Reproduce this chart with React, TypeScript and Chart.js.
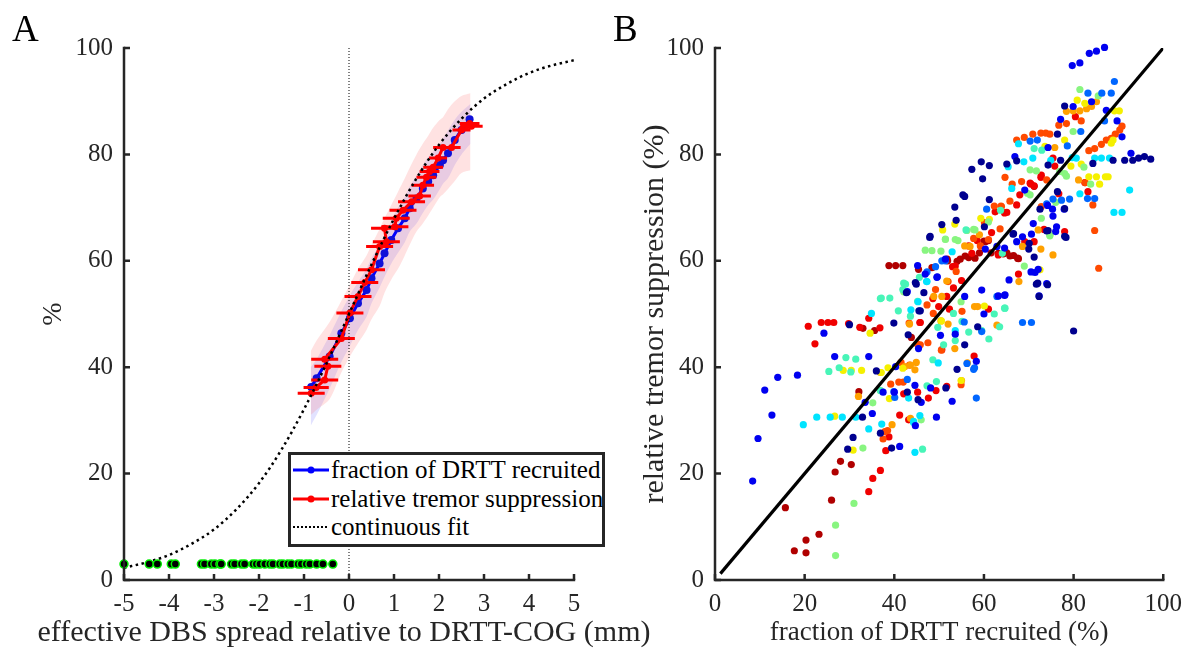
import React, { useEffect, useRef } from 'react';
import { Chart, registerables } from 'chart.js';

Chart.register(...registerables);

const FONT = '"Liberation Serif", "Times New Roman", Times, serif';
const INK = '#262626';
const TICK_SIZE = 25;

// ---------------- Panel A data ----------------
const xTicksA = [-5, -4, -3, -2, -1, 0, 1, 2, 3, 4, 5];
const yTicksA = [0, 20, 40, 60, 80, 100];

// continuous fit (dotted curve)
const fitX = [-5, -4.5, -4, -3.5, -3, -2.5, -2, -1.5, -1, -0.5, 0, 0.5, 1, 1.5, 2, 2.5, 3, 3.5, 4, 4.5, 5];
const fitY = [2.3, 3.3, 4.7, 6.8, 9.5, 13.3, 18.2, 24.5, 32.1, 40.7, 50, 59.3, 67.9, 75.5, 81.8, 86.7, 90.5, 93.2, 95.3, 96.7, 97.7];

// green/black markers along the bottom
const greenX = [-5.0, -4.44, -4.26, -3.95, -3.86, -3.28, -3.21, -3.06, -2.98, -2.87, -2.84, -2.61, -2.54, -2.39, -2.32, -2.13, -2.06, -1.98, -1.87, -1.76, -1.69, -1.54, -1.47, -1.36, -1.28, -1.13, -1.06, -0.95, -0.87, -0.72, -0.58, -0.36];
const greenLevel = 3;

// fraction of DRTT recruited (blue)
const blueX = [-0.84, -0.72, -0.43, -0.17, 0.02, 0.2, 0.39, 0.5, 0.68, 0.79, 0.94, 1.09, 1.24, 1.35, 1.5, 1.64, 1.76, 1.87, 2.02, 2.09, 2.2, 2.35, 2.5, 2.68];
const blueY = [36.3, 37.9, 42.0, 46.4, 49.2, 52.0, 54.5, 56.7, 59.5, 61.4, 63.9, 66.1, 68.0, 69.9, 71.7, 73.6, 74.9, 76.1, 78.0, 78.9, 80.2, 82.7, 84.6, 86.6];

// relative tremor suppression (red) with horizontal error bars
const redX = [-0.84, -0.73, -0.54, -0.47, -0.54, -0.17, 0.02, 0.2, 0.35, 0.5, 0.68, 0.83, 0.79, 1.02, 1.05, 1.2, 1.39, 1.57, 1.64, 1.72, 1.79, 1.87, 1.98, 2.09, 2.28, 2.5, 2.72, 2.68];
const redY = [35.1, 36.2, 37.6, 40.2, 41.5, 45.4, 50.2, 53.3, 55.9, 58.3, 62.7, 63.6, 66.1, 66.4, 68.0, 69.5, 71.1, 72.2, 74.2, 75.7, 76.8, 77.6, 79.3, 81.3, 81.3, 84.6, 85.3, 85.8];
const redErr = [0.3, 0.28, 0.3, 0.3, 0.3, 0.3, 0.3, 0.3, 0.3, 0.3, 0.3, 0.3, 0.3, 0.3, 0.3, 0.3, 0.3, 0.25, 0.25, 0.22, 0.22, 0.22, 0.2, 0.22, 0.2, 0.2, 0.25, 0.22];

// shaded spread bands
const bandX = [-0.85, -0.72, -0.43, -0.17, 0.02, 0.2, 0.39, 0.5, 0.68, 0.79, 0.94, 1.09, 1.24, 1.35, 1.5, 1.64, 1.76, 1.87, 2.02, 2.09, 2.2, 2.35, 2.5, 2.7];
const blueHi = [40, 41.5, 46, 50.5, 53.5, 56, 58.5, 60.5, 63, 65, 67.5, 70, 72, 74, 76, 78, 79.5, 80.5, 82, 83, 84.5, 86.5, 88, 89.5];
const blueLo = [29, 31, 36, 41, 44, 47, 49.5, 52, 55, 57, 59.5, 61.5, 63.5, 65.5, 67, 69, 70.5, 71.5, 73.5, 74.5, 75.5, 78, 80, 82];
const redHi = [43, 45, 48.5, 52.5, 55.5, 58.5, 61, 63, 66, 68, 70.5, 73, 75.5, 77.5, 80, 82, 83.5, 85, 86.5, 87, 88.5, 90, 91, 91.5];
const redLo = [31, 32, 34, 39, 42, 44.5, 47, 49, 51.5, 54, 56.5, 58.5, 61, 63, 65.5, 67, 68.5, 70, 72, 72.5, 73.5, 75, 76.5, 77];

// ---------------- Panel B data ----------------
const xTicksB = [0, 20, 40, 60, 80, 100];
const yTicksB = [0, 20, 40, 60, 80, 100];
const diagX = [1.2, 100];
const diagY = [1.2, 100];

type P = [number, number][];
const navyPts: P = [[30.0,48.0],[39.9,48.3],[43.1,46.1],[55.7,44.2],[58.6,47.6],[45.5,50.6],[80.0,46.8],[36.0,39.3],[51.5,36.1],[54.0,39.6],[42.9,35.3],[45.3,33.9],[32.9,30.6],[36.9,27.6],[30.8,26.8],[29.6,24.6],[39.4,24.8],[61.2,77.9],[59.4,78.6],[57.3,77.2],[59.7,75.4],[55.3,72.4],[55.7,72.1],[53.5,70.1],[53.8,67.6],[50.6,66.8],[48.0,64.6],[61.2,71.5],[60.1,66.4],[66.6,65.1],[70.1,63.3],[44.7,55.9],[47.9,64.4],[46.6,54.0],[44.9,55.6],[42.7,54.0],[45.8,50.6],[78.0,89.1],[76.4,83.8],[65.1,78.2],[67.3,78.8],[77.1,78.9],[74.3,78.0],[84.3,78.3],[88.8,78.9],[91.4,78.9],[93.2,78.9],[94.5,79.3],[95.8,79.6],[97.2,79.1],[76.4,73.0],[72.5,69.7],[78.3,64.4],[74.3,65.7],[66.5,65.0],[70.0,62.2],[71.2,60.7],[71.7,55.6],[74.2,55.5],[72.3,53.3],[78.0,69.8],[74.0,65.6],[78.0,64.6],[72.0,55.8]];
const bluePts: P = [[24.3,46.4],[53.6,46.2],[60.0,50.0],[26.7,42.0],[34.3,42.0],[14.0,38.1],[18.4,38.5],[40.3,40.1],[44.6,36.6],[48.1,36.1],[58.3,41.1],[52.9,33.6],[11.1,35.7],[12.7,31.0],[9.6,26.6],[8.4,18.6],[35.1,31.3],[33.5,33.4],[37.5,35.3],[40.0,35.3],[46.0,33.4],[49.4,30.6],[44.7,29.0],[41.2,25.1],[50.3,46.0],[45.4,43.5],[86.9,100.1],[85.1,99.4],[83.5,99.0],[81.4,97.2],[79.7,96.7],[79.9,89.0],[84.0,89.9],[87.3,88.3],[89.7,86.3],[90.8,83.3],[77.1,86.6],[66.9,79.6],[74.3,81.3],[92.8,80.2],[69.1,73.3],[74.2,70.4],[75.3,69.7],[77.9,69.7],[75.4,68.4],[71.0,67.0],[76.2,66.4],[76.0,65.5],[70.6,65.0],[67.3,63.6],[68.6,64.5],[64.6,62.4],[71.4,57.8],[65.6,56.4],[64.7,53.6],[72.1,58.4],[74.0,55.7],[72.3,53.4],[70.5,57.9],[63.2,53.4],[64.6,53.5],[60.3,62.2],[62.9,62.7],[59.5,54.5],[55.7,53.3],[46.9,57.5],[49.5,56.9],[51.4,60.3],[45.2,59.1],[42.9,54.2],[49.6,57.0]];
const lightBluePts: P = [[89.1,93.7],[83.2,91.5],[86.3,91.5],[88.4,91.5],[86.9,86.3],[81.6,84.3],[70.3,82.5],[71.9,82.7],[78.6,81.6],[79.1,71.6],[77.3,71.4],[75.4,71.6],[74.0,70.7],[83.1,71.7],[84.7,71.7],[68.6,48.4],[70.6,48.4],[57.9,39.9],[58.3,34.2],[40.1,34.3],[39.9,35.4],[42.9,37.7],[56.2,40.7],[50.6,60.0],[51.4,60.0],[49.2,58.9],[47.3,57.9],[62.9,53.3],[59.5,46.7],[55.6,48.5],[60.6,69.7],[57.7,39.6]];
const cyanPts: P = [[79.7,79.4],[80.6,79.3],[84.7,79.3],[86.2,79.3],[88.0,79.3],[67.7,82.0],[65.4,77.7],[68.9,78.6],[70.9,79.3],[74.9,78.9],[66.2,73.6],[92.5,73.3],[89.0,69.1],[90.8,69.1],[81.4,72.6],[53.6,46.9],[49.8,40.8],[43.2,34.2],[19.7,29.2],[22.7,30.6],[25.7,30.6],[28.4,30.6],[31.4,30.6],[37.2,29.3],[34.3,28.4],[44.3,29.8],[45.7,30.9],[44.6,24.0],[43.7,50.8],[45.3,52.3],[47.3,56.1],[52.9,61.7],[34.9,50.1],[47.2,56.1],[44.3,29.6]];
const aquaPts: P = [[71.2,81.1],[72.9,80.8],[53.6,45.0],[56.6,46.6],[59.5,46.9],[61.1,45.3],[63.5,47.6],[64.7,51.1],[53.2,50.1],[40.9,50.6],[29.2,41.8],[31.4,41.5],[27.7,39.9],[30.3,39.1],[25.4,39.2],[48.6,41.4],[49.4,37.3],[47.3,36.5],[36.9,35.6],[42.1,55.8],[41.9,54.6],[45.2,52.4],[37.1,53.0],[39.0,53.0],[36.9,52.9],[45.6,56.9],[42.5,55.6],[43.6,49.6],[55.1,48.6],[62.3,50.0],[64.1,61.4],[49.7,47.5],[51.0,44.2],[63.7,69.5],[56.0,65.8],[46.3,24.6],[64.6,51.1]];
const greenPts: P = [[81.4,92.2],[85.5,91.0],[79.9,84.3],[70.3,77.1],[71.7,76.9],[76.9,76.8],[78.0,76.4],[78.4,75.9],[82.3,77.6],[83.8,74.4],[69.7,72.7],[70.3,72.4],[76.0,71.0],[72.8,68.0],[74.7,64.7],[69.0,59.0],[61.0,67.3],[57.7,65.9],[54.2,63.8],[51.4,64.0],[53.6,64.0],[56.2,65.7],[58.0,65.8],[46.9,62.0],[48.4,61.9],[50.4,61.8],[51.4,64.1],[54.9,52.3],[42.1,54.2],[46.0,30.1],[35.2,33.3],[36.9,35.6],[33.0,24.8],[31.0,14.4],[26.9,10.3],[26.9,4.6],[74.7,64.8]];
const yellowPts: P = [[80.8,90.2],[82.5,89.6],[89.1,88.2],[90.2,88.2],[88.4,82.1],[88.8,82.7],[78.0,82.7],[73.6,81.5],[79.4,77.8],[81.7,78.2],[83.4,75.8],[85.1,75.8],[87.1,75.8],[87.7,75.8],[85.8,74.4],[72.5,58.3],[59.3,68.0],[61.2,67.8],[50.8,65.8],[53.5,66.9],[60.1,51.5],[50.5,48.7],[34.6,46.4],[28.6,39.4],[30.4,39.4],[32.7,39.4],[38.6,39.9],[41.9,39.8],[54.9,37.5],[38.9,34.1],[26.7,30.8],[30.8,24.4],[37.1,39.0]];
const orangePts: P = [[78.4,88.1],[79.9,88.2],[81.4,88.2],[82.9,88.6],[84.0,89.0],[85.1,89.9],[75.8,81.3],[81.1,75.2],[72.1,65.8],[72.7,62.2],[68.6,62.7],[75.4,61.1],[67.8,56.1],[55.7,62.8],[56.9,62.7],[50.6,53.3],[48.8,53.3],[51.7,56.2],[57.9,51.4],[58.6,51.4],[62.9,47.9],[52.0,48.1],[50.4,48.7],[43.4,48.1],[53.5,43.5],[56.3,40.8],[55.0,37.5],[36.9,39.0],[42.3,40.1],[44.9,40.9],[44.6,39.5],[43.6,40.4],[32.0,34.5],[39.5,29.2],[43.6,30.4],[59.0,64.9]];
const redOrangePts: P = [[76.7,85.5],[78.4,85.8],[81.7,86.3],[90.8,85.3],[90.3,84.6],[89.3,83.8],[88.4,83.0],[87.3,82.7],[86.2,81.9],[84.7,81.1],[83.4,80.7],[67.3,82.7],[69.0,83.2],[70.9,83.8],[72.7,84.0],[73.8,84.0],[74.7,83.8],[74.0,75.2],[82.6,74.7],[64.7,75.7],[66.3,74.4],[68.4,74.9],[84.3,70.5],[72.8,70.2],[63.9,70.2],[84.7,65.7],[85.6,58.6],[62.3,70.3],[63.8,70.3],[60.1,67.2],[57.7,64.2],[59.2,62.8],[61.0,64.0],[63.6,66.0],[65.8,71.2],[53.8,58.0],[52.0,56.1],[47.3,51.7],[43.3,48.3],[55.1,50.5],[48.7,50.1],[45.1,44.4],[47.5,44.6],[45.8,44.2],[50.5,43.2],[41.5,40.9],[43.4,40.4],[39.2,36.8],[41.0,37.2],[42.0,37.2],[54.9,36.7],[37.9,27.9],[38.5,28.1],[37.5,26.5],[49.2,54.6]];
const redPts: P = [[80.4,87.1],[72.8,76.1],[72.7,75.7],[75.4,79.3],[75.8,77.8],[70.3,74.6],[70.5,74.4],[71.2,74.1],[68.0,72.4],[76.7,72.6],[83.2,73.0],[82.5,74.7],[67.3,70.5],[64.6,69.0],[73.4,65.9],[78.0,65.5],[71.2,63.6],[69.1,63.6],[67.7,57.5],[62.5,69.2],[65.1,69.1],[61.7,65.3],[58.5,63.8],[57.3,61.4],[63.2,61.1],[53.0,58.9],[55.0,56.3],[53.2,54.9],[51.7,53.3],[49.9,51.4],[52.3,50.9],[61.0,50.9],[45.8,48.4],[48.6,52.9],[57.8,42.1],[50.6,43.3],[49.3,35.6],[51.7,36.4],[42.1,35.0],[45.2,35.3],[47.6,34.2],[41.2,31.0],[43.2,30.1],[38.8,26.9],[38.1,24.3],[36.9,20.6],[35.2,19.1],[34.3,16.6],[20.8,47.7],[23.7,48.4],[25.2,48.4],[26.5,48.4],[29.8,48.2],[32.3,47.5],[36.8,47.4],[34.3,49.2],[45.7,48.4],[56.6,62.8],[53.6,59.0],[22.3,44.4]];
const darkRedPts: P = [[71.2,74.0],[67.5,60.5],[65.8,60.9],[64.3,61.3],[60.0,63.7],[59.0,61.5],[61.6,61.5],[63.2,61.4],[65.1,61.5],[66.6,61.0],[67.7,60.4],[55.8,60.9],[54.7,60.3],[57.3,60.9],[51.8,60.3],[54.0,59.9],[38.8,59.1],[40.3,59.1],[41.9,59.1],[45.4,58.4],[48.4,58.7],[60.3,63.6],[61.0,63.8],[56.6,60.6],[58.0,60.5],[51.9,60.0],[33.0,47.3],[35.6,46.9],[43.8,45.6],[32.1,35.4],[28.0,22.3],[30.4,21.7],[26.8,20.3],[26.0,15.0],[15.7,13.6],[23.2,8.6],[20.3,7.5],[17.7,5.5],[20.3,5.1]];

const scatterGroups: { color: string; pts: P }[] = [
  { color: '#00008F', pts: navyPts },
  { color: '#0000F0', pts: bluePts },
  { color: '#0066FF', pts: lightBluePts },
  { color: '#00E4FF', pts: cyanPts },
  { color: '#48F5B8', pts: aquaPts },
  { color: '#88F580', pts: greenPts },
  { color: '#F5F000', pts: yellowPts },
  { color: '#FFA000', pts: orangePts },
  { color: '#FF4A00', pts: redOrangePts },
  { color: '#F00000', pts: redPts },
  { color: '#B00000', pts: darkRedPts },
];

// ---------------- helpers ----------------
const zip = (xs: number[], ys: number[]) => xs.map((x, i) => ({ x, y: ys[i] }));

const matlabAxes = {
  id: 'matlabAxes',
  afterDatasetsDraw(chart: any) {
    const { ctx, chartArea: a, scales } = chart;
    const x = scales.x;
    const y = scales.y;
    ctx.save();
    ctx.strokeStyle = INK;
    ctx.lineWidth = 2.5;
    ctx.lineCap = 'butt';
    ctx.beginPath();
    ctx.moveTo(a.left, a.top - 1.2);
    ctx.lineTo(a.left, a.bottom);
    ctx.lineTo(a.right + 1.2, a.bottom);
    ctx.stroke();
    ctx.beginPath();
    x.ticks.forEach((t: any) => {
      const p = x.getPixelForValue(t.value);
      ctx.moveTo(p, a.bottom);
      ctx.lineTo(p, a.bottom - 6);
    });
    y.ticks.forEach((t: any) => {
      const p = y.getPixelForValue(t.value);
      ctx.moveTo(a.left, p);
      ctx.lineTo(a.left + 6, p);
    });
    ctx.stroke();
    ctx.restore();
  },
};

const errorBars = {
  id: 'xErrorBars',
  afterDatasetDraw(chart: any, args: any) {
    const ds = chart.data.datasets[args.index];
    if (ds.label !== 'relative tremor suppression') return;
    const { ctx, scales } = chart;
    const x = scales.x;
    const y = scales.y;
    ctx.save();
    ctx.strokeStyle = '#FF0000';
    ctx.lineWidth = 3;
    ctx.beginPath();
    redX.forEach((v, i) => {
      const py = y.getPixelForValue(redY[i]);
      ctx.moveTo(x.getPixelForValue(v - redErr[i]), py);
      ctx.lineTo(x.getPixelForValue(v + redErr[i]), py);
    });
    ctx.stroke();
    ctx.restore();
  },
};

const tickFont = { family: FONT, size: TICK_SIZE };

function axisX(ticks: number[], min: number, max: number, title: string, titleSize: number) {
  return {
    type: 'linear',
    min,
    max,
    afterBuildTicks: (s: any) => {
      s.ticks = ticks.map((v) => ({ value: v }));
    },
    afterFit: (s: any) => {
      s.height = 72;
    },
    grid: { display: false, drawTicks: false },
    border: { display: false },
    ticks: { color: INK, font: tickFont, padding: 9, maxRotation: 0, autoSkip: false },
    title: {
      display: title !== '',
      text: title,
      color: INK,
      font: { family: FONT, size: titleSize },
      padding: { top: 0, bottom: 3 },
    },
  };
}

function axisY(ticks: number[], width: number, title: string, titlePad: number, titleSize: number) {
  return {
    type: 'linear',
    min: 0,
    max: 100,
    afterBuildTicks: (s: any) => {
      s.ticks = ticks.map((v) => ({ value: v }));
    },
    afterFit: (s: any) => {
      s.width = width;
    },
    grid: { display: false, drawTicks: false },
    border: { display: false },
    ticks: { color: INK, font: tickFont, padding: 11, autoSkip: false },
    title: {
      display: true,
      text: title,
      color: INK,
      font: { family: FONT, size: titleSize },
      padding: { top: titlePad, bottom: 0 },
    },
  };
}

function configA(): any {
  return {
    type: 'line',
    data: {
      datasets: [
        {
          label: 'green markers',
          data: greenX.map((x) => ({ x, y: greenLevel })),
          showLine: false,
          pointRadius: 4,
          pointBackgroundColor: '#000000',
          pointBorderColor: '#00EE00',
          pointBorderWidth: 1.5,
          clip: false,
        },
        {
          label: 'continuous fit',
          data: zip(fitX, fitY),
          borderColor: '#000000',
          borderWidth: 2.5,
          borderDash: [2.5, 3.5],
          pointRadius: 0,
          cubicInterpolationMode: 'monotone',
          fill: false,
        },
        {
          label: 'zero line',
          data: [{ x: 0, y: 0 }, { x: 0, y: 100 }],
          borderColor: '#000000',
          borderWidth: 1,
          borderDash: [1, 2],
          pointRadius: 0,
          fill: false,
        },
        {
          label: 'relative tremor suppression',
          data: zip(redX, redY),
          borderColor: '#FF0000',
          borderWidth: 3,
          pointRadius: 3.5,
          pointBackgroundColor: '#FF0000',
          pointBorderWidth: 0,
          fill: false,
        },
        {
          label: 'fraction of DRTT recruited',
          data: zip(blueX, blueY),
          borderColor: '#0000FF',
          borderWidth: 3,
          pointRadius: 4,
          pointBackgroundColor: '#1010D8',
          pointBorderWidth: 0,
          fill: false,
        },
        {
          label: 'red band hi',
          data: zip(bandX, redHi),
          borderWidth: 0,
          pointRadius: 0,
          tension: 0.3,
          backgroundColor: 'rgba(255,110,110,0.2)',
          fill: '+1',
        },
        { label: 'red band lo', data: zip(bandX, redLo), borderWidth: 0, pointRadius: 0, tension: 0.3, fill: false },
        {
          label: 'blue band hi',
          data: zip(bandX, blueHi),
          borderWidth: 0,
          pointRadius: 0,
          tension: 0.3,
          backgroundColor: 'rgba(110,110,255,0.2)',
          fill: '+1',
        },
        { label: 'blue band lo', data: zip(bandX, blueLo), borderWidth: 0, pointRadius: 0, tension: 0.3, fill: false },
      ],
    },
    options: {
      responsive: false,
      animation: false,
      events: [],
      layout: { padding: { left: 0, right: 21, top: 48, bottom: 0 } },
      plugins: { legend: { display: false }, tooltip: { enabled: false } },
      scales: {
        x: axisX(xTicksA, -5, 5, '', 28),
        y: axisY(yTicksA, 124, '%', 37, 28),
      },
    },
    plugins: [errorBars, matlabAxes],
  };
}

function configB(): any {
  return {
    type: 'line',
    data: {
      datasets: [
        {
          label: 'identity',
          data: zip(diagX, diagY),
          borderColor: '#000000',
          borderWidth: 3.2,
          pointRadius: 0,
          fill: false,
        },
        ...scatterGroups.map((g, i) => ({
          label: 'group ' + i,
          data: g.pts.map(([x, y]) => ({ x, y })),
          showLine: false,
          pointRadius: 3.6,
          pointBackgroundColor: g.color,
          pointBorderWidth: 0,
          clip: false,
        })),
      ],
    },
    options: {
      responsive: false,
      animation: false,
      events: [],
      layout: { padding: { left: 0, right: 26, top: 48, bottom: 0 } },
      plugins: { legend: { display: false }, tooltip: { enabled: false } },
      scales: {
        x: axisX(xTicksB, 0, 100, 'fraction of DRTT recruited (%)', 27),
        y: axisY(yTicksB, 120, 'relative tremor suppression (%)', 42, 30),
      },
    },
    plugins: [matlabAxes],
  };
}

function ChartCanvas({ make, left, width }: { make: () => any; left: number; width: number }) {
  const ref = useRef<HTMLCanvasElement>(null);
  useEffect(() => {
    const chart = new Chart(ref.current as HTMLCanvasElement, make());
    return () => chart.destroy();
  }, []);
  return (
    <canvas
      ref={ref}
      width={width}
      height={652}
      style={{ position: 'absolute', left, top: 0, width, height: 652 }}
    />
  );
}

function LegendRow({ top, kind, text }: { top: number; kind: 'blue' | 'red' | 'dot'; text: string }) {
  const color = kind === 'blue' ? '#0000FF' : kind === 'red' ? '#FF0000' : '#000000';
  return (
    <div style={{ position: 'absolute', left: 0, top, height: 30, width: 311, whiteSpace: 'nowrap' }}>
      <svg width={40} height={30} style={{ position: 'absolute', left: 0, top: 0 }}>
        {kind === 'dot' ? (
          <line x1={2} y1={15} x2={38} y2={15} stroke="#000" strokeWidth={2} strokeDasharray="2 2" />
        ) : (
          <>
            <line x1={2} y1={15} x2={38} y2={15} stroke={color} strokeWidth={3} />
            <circle cx={20} cy={15} r={3.5} fill={color} />
          </>
        )}
      </svg>
      <span
        style={{
          position: 'absolute',
          left: 40,
          top: 0,
          lineHeight: '30px',
          fontFamily: FONT,
          fontSize: 25,
          color: '#000',
        }}
      >
        {text}
      </span>
    </div>
  );
}

export default function App() {
  return (
    <div
      style={{
        position: 'fixed',
        left: 0,
        top: 0,
        width: 1191,
        height: 652,
        background: '#ffffff',
        overflow: 'hidden',
      }}
    >
      <ChartCanvas make={configA} left={0} width={595} />
      <ChartCanvas make={configB} left={595} width={596} />
      <div
        style={{
          position: 'absolute',
          left: 0,
          top: 614,
          width: 688,
          textAlign: 'center',
          whiteSpace: 'nowrap',
          fontFamily: FONT,
          fontSize: 30,
          lineHeight: '34px',
          color: INK,
        }}
      >
        effective DBS spread relative to DRTT-COG (mm)
      </div>
      <div
        style={{
          position: 'absolute',
          left: 288,
          top: 452,
          width: 317,
          height: 95,
          boxSizing: 'border-box',
          border: '3px solid #262626',
          background: '#ffffff',
        }}
      >
        <LegendRow top={0} kind="blue" text="fraction of DRTT recruited" />
        <LegendRow top={29} kind="red" text="relative tremor suppression" />
        <LegendRow top={57} kind="dot" text="continuous fit" />
      </div>
      <div style={{ position: 'absolute', left: 12, top: 10, fontFamily: FONT, fontSize: 37, lineHeight: '37px', color: '#000' }}>A</div>
      <div style={{ position: 'absolute', left: 613, top: 10, fontFamily: FONT, fontSize: 37, lineHeight: '37px', color: '#000' }}>B</div>
    </div>
  );
}
